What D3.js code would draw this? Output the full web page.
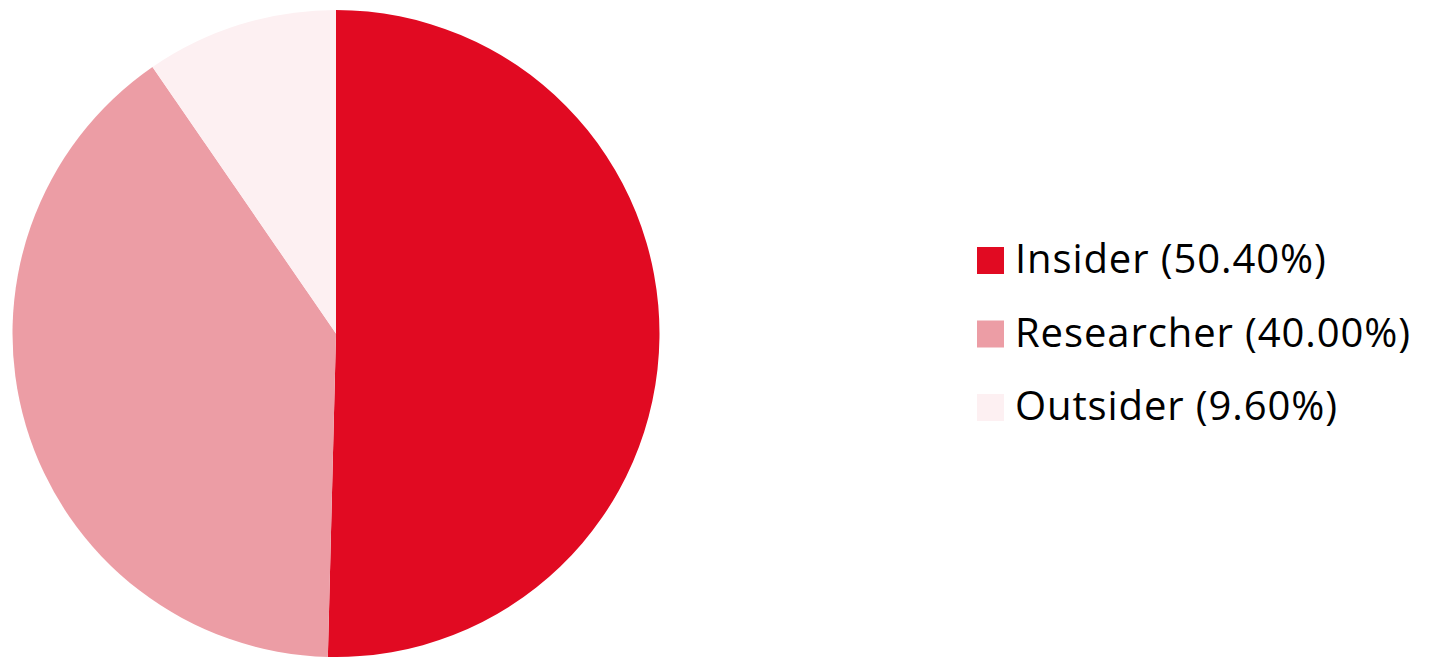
<!DOCTYPE html>
<html>
<head>
<meta charset="utf-8">
<script src="https://cdn.jsdelivr.net/npm/d3@7"></script>
<style>
  body { margin: 0; background: #fff; }
</style>
</head>
<body>
<div id="chart-area"></div>
<script>
const categories = ["Insider", "Researcher", "Outsider"];
const shares = [50.40, 40.00, 9.60];
const colors = ["#E10A22", "#EC9DA5", "#FDF0F2"];

const width = 1431;
const height = 657;
const cx = 336, cy = 333.5, radius = 323.5;

const svg = d3.select("#chart-area")
    .append("svg")
    .attr("width", width)
    .attr("height", height);

const data = categories.map((c, i) => ({ name: c, value: shares[i], color: colors[i] }));

const pie = d3.pie()
    .value(d => d.value)
    .sort(null);

const arc = d3.arc()
    .innerRadius(0)
    .outerRadius(radius);

svg.append("g")
    .attr("transform", `translate(${cx}, ${cy})`)
    .selectAll("path")
    .data(pie(data))
    .enter().append("path")
    .attr("d", arc)
    .attr("fill", d => d.data.color);

// legend
const rowY = d3.scalePoint()
    .domain(categories)
    .range([273, 420]);

const legend = svg.append("g");
const rows = legend.selectAll("g")
    .data(data)
    .enter().append("g")
    .attr("transform", d => `translate(977, ${rowY(d.name)})`);

rows.append("rect")
    .attr("x", 0)
    .attr("y", -26)
    .attr("width", 27)
    .attr("height", 27)
    .attr("fill", d => d.color);

rows.append("text")
    .attr("x", 38)
    .attr("y", 0)
    .attr("font-family", "'Open Sans', sans-serif")
    .attr("font-size", 40)
    .attr("letter-spacing", 0.9)
    .attr("fill", "#000")
    .text(d => `${d.name} (${d.value.toFixed(2)}%)`);
</script>
</body>
</html>
